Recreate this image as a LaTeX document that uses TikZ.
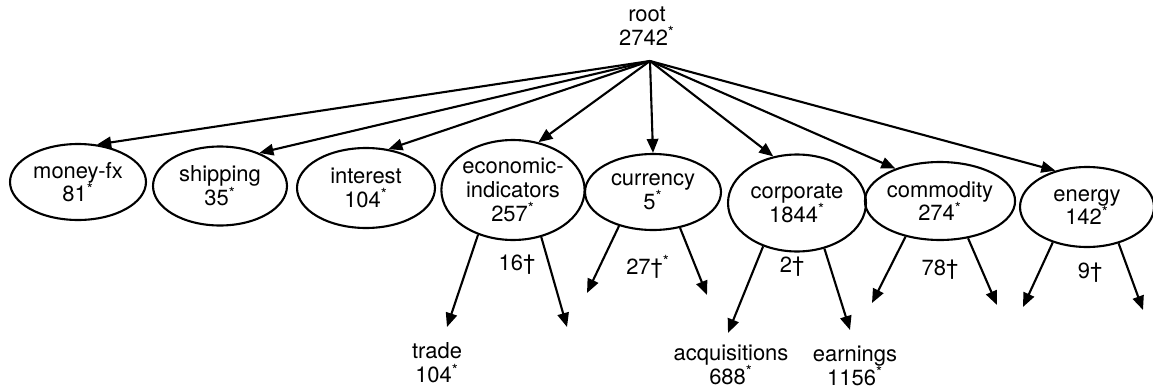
\documentclass[tikz,border=0pt]{standalone}
\usepackage{fontspec}
\setmainfont{TeX Gyre Heros}
\usetikzlibrary{arrows.meta,shapes.geometric}

\begin{document}
\begin{tikzpicture}[x=0.02cm,y=-0.02cm,
	txt/.style={font=\fontsize{12.5}{13.5}\selectfont, align=center, inner sep=0pt},
	cat/.style={txt, ellipse, draw, line width=1.2pt},
	flecha/.style={line width=1.2pt, -{Triangle[length=8pt,width=6.5pt]}}]
\useasboundingbox (0,0) rectangle (1153,392);

%%%%%%%%%%%%%%%%%%%%%%%%%%%%%%%%%%%%%%%%%%%%%%%% 	RAIZ
\node[txt] (root) at (647,26) {root\\2742\textsuperscript{*}};
\coordinate (apex) at (650,61);					%%%%	punto de donde salen las flechas

%%%%%%%%%%%%%%%%%%%%%%%%%%%%%%%%%%%%%%%%%%%%%%%% 	CATEGORIAS
\node[cat, minimum width=2.72cm, minimum height=1.52cm] (moneyfx) at (78,182) {money-fx\\81\textsuperscript{*}};
\node[cat, minimum width=2.68cm, minimum height=1.58cm] (shipping) at (220,186) {shipping\\35\textsuperscript{*}};
\node[cat, minimum width=2.76cm, minimum height=1.6cm] (interest) at (366,188) {interest\\104\textsuperscript{*}};
\node[cat, minimum width=2.8cm, minimum height=2cm] (econ) at (513,190) {economic-\\indicators\\257\textsuperscript{*}};
\node[cat, minimum width=2.72cm, minimum height=1.52cm] (currency) at (653,192) {currency\\5\textsuperscript{*}};
\node[cat, minimum width=2.76cm, minimum height=1.94cm] (corporate) at (797,203) {corporate\\1844\textsuperscript{*}};
\node[cat, minimum width=2.8cm, minimum height=1.56cm] (commodity) at (940,201) {commodity\\274\textsuperscript{*}};
\node[cat, minimum width=2.68cm, minimum height=1.6cm] (energy) at (1087,207) {energy\\142\textsuperscript{*}};

%%%%%%%%%%%%%%%%%%%%%%%%%%%%%%%%%%%%%%%%%%%%%%%% 	FLECHAS DE LA RAIZ
\draw[flecha] (apex) -- (moneyfx.63);
\draw[flecha] (apex) -- (shipping.40);
\draw[flecha] (apex) -- (interest.60);
\draw[flecha] (apex) -- (econ.62);
\draw[flecha] (apex) -- (currency.90);
\draw[flecha] (apex) -- (corporate.117);
\draw[flecha] (apex) -- (commodity.144);
\draw[flecha] (apex) -- (energy.131);

%%%%%%%%%%%%%%%%%%%%%%%%%%%%%%%%%%%%%%%%%%%%%%%% 	HIJOS (puntas sueltas)
\coordinate (econL) at (447,327);	\coordinate (econR) at (567,327);
\coordinate (currL) at (587,293);	\coordinate (currR) at (707,295);
\coordinate (corpL) at (728,333);	\coordinate (corpR) at (850,330);
\coordinate (commL) at (872,303);	\coordinate (commR) at (997,305);
\coordinate (enerL) at (1023,307);	\coordinate (enerR) at (1143,310);

\draw[flecha] (econ.232) -- (econL);
\draw[flecha] (econ.301) -- (econR);
\draw[flecha] (currency.225) -- (currL);
\draw[flecha] (currency.307) -- (currR);
\draw[flecha] (corporate.232) -- (corpL);
\draw[flecha] (corporate.301) -- (corpR);
\draw[flecha] (commodity.226) -- (commL);
\draw[flecha] (commodity.307) -- (commR);
\draw[flecha] (energy.226) -- (enerL);
\draw[flecha] (energy.311) -- (enerR);

%%%%%%%%%%%%%%%%%%%%%%%%%%%%%%%%%%%%%%%%%%%%%%%% 	ETIQUETAS
\node[txt] (econN) at (517,265) {16\textdagger};
\node[txt] (currN) at (648,267) {27\textdagger\textsuperscript{*}};
\node[txt] (corpN) at (792,267) {2\textdagger};
\node[txt] (commN) at (940,270) {78\textdagger};
\node[txt] (enerN) at (1090,273) {9\textdagger};

\node[txt] (trade) at (437,363) {trade\\104\textsuperscript{*}};
\node[txt] (acq) at (731,365) {acquisitions\\688\textsuperscript{*}};
\node[txt] (earn) at (855,366) {earnings\\1156\textsuperscript{*}};

\end{tikzpicture}
\end{document}
